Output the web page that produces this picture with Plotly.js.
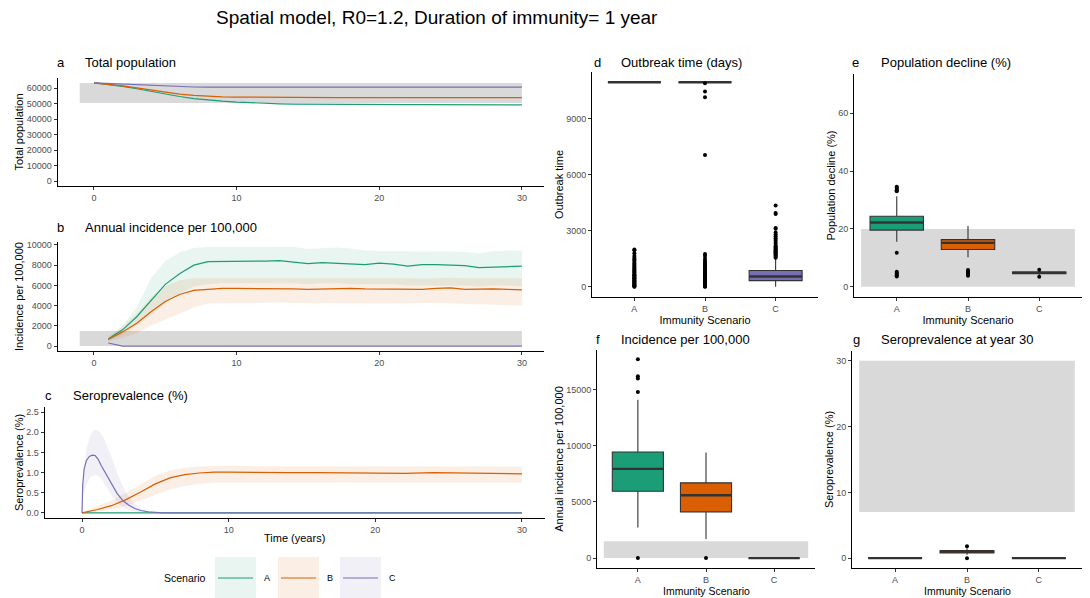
<!DOCTYPE html>
<html><head><meta charset="utf-8">
<script src="https://cdn.plot.ly/plotly-3.0.1.min.js"></script>
<style>html,body{margin:0;padding:0;background:#fff}#chart{width:1090px;height:598px}</style>
</head><body><div id="chart"></div>
<script>
const scenarios = ['A','B','C'];
const colors = ['#1b9e77','#d95f02','#7570b3'];
const bandColors = ['rgba(27,158,119,0.10)','rgba(217,95,2,0.10)','rgba(117,112,179,0.10)'];

// (a) total population
const popYears = [0,1,2,3,4,5,6,7,8,9,10,11,12,13,14,15,16,17,18,19,20,21,22,23,24,25,26,27,28,29,30];
const popA = [63500,62600,61300,59700,57900,56200,54700,53400,52400,51700,51100,50600,50300,50000,49800,49700,49600,49550,49500,49450,49450,49400,49400,49400,49350,49350,49350,49300,49300,49300,49300];
const popB = [63500,62700,61600,60300,58900,57500,56300,55400,54800,54500,54300,54200,54100,54050,54000,54000,54000,54000,54000,54000,54000,54000,54000,54000,54000,54000,54000,54000,54000,54000,54000];
const popC = [63500,63100,62700,62300,61800,61400,61000,60850,60800,60800,60800,60800,60800,60800,60800,60800,60800,60800,60800,60800,60800,60800,60800,60800,60800,60800,60800,60800,60800,60800,60800];
const popRefX = [-1,30];
const popRefY = [50500,63500];

// (b) annual incidence per 100,000
const incYears = [1,2,3,4,5,6,7,8,9,10,11,12,13,14,15,16,17,18,19,20,21,22,23,24,25,26,27,28,29,30];
const incA   = [700,1600,2900,4500,6100,7150,8000,8350,8350,8350,8400,8400,8450,8300,8150,8250,8200,8150,8050,8200,8100,7900,8050,8050,8000,7950,7750,7800,7850,7900];
const incAlo = [500,1100,2000,3000,4200,5200,5900,6100,6200,6200,6200,6200,6200,6200,6100,6200,6200,6100,6100,6100,6100,6000,6000,6000,6000,6000,5900,6000,6000,5900];
const incAhi = [900,2000,3800,6700,8400,9250,9700,9800,9800,9800,9800,9800,9850,9800,9600,9700,9750,9650,9450,9400,9400,9400,9350,9350,9350,9300,9150,9400,9450,9450];
const incB   = [650,1400,2250,3400,4400,5100,5500,5600,5700,5700,5700,5650,5700,5650,5600,5650,5700,5700,5650,5650,5650,5650,5600,5700,5750,5600,5650,5650,5600,5550];
const incBlo = [450,800,1300,2000,2600,3200,3800,4200,4250,4250,4250,4250,4300,4250,4200,4250,4250,4250,4200,4200,4200,4200,4250,4250,4200,4150,4150,4100,4050,4000];
const incBhi = [800,1900,3200,4800,5900,6500,6700,6700,6750,6750,6750,6700,6750,6750,6700,6750,6750,6750,6700,6700,6700,6700,6650,6700,6750,6700,6700,6700,6700,6700];
const incC   = [300,0,0,0,0,0,0,0,0,0,0,0,0,0,0,0,0,0,0,0,0,0,0,0,0,0,0,0,0,0];
const incClo = [250,0,0,0,0,0,0,0,0,0,0,0,0,0,0,0,0,0,0,0,0,0,0,0,0,0,0,0,0,0];
const incChi = [350,0,0,0,0,0,0,0,0,0,0,0,0,0,0,0,0,0,0,0,0,0,0,0,0,0,0,0,0,0];
const incRefX = [-1,30];
const incRefY = [0,1500];

// (c) seroprevalence (%)
const seroA_t = [0,30];
const seroA   = [0,0];
const seroB_t = [0,1,2,3,4,5,6,7,8,9,10,12,14,16,18,20,22,24,26,28,30];
const seroB   = [0,0.08,0.18,0.33,0.52,0.72,0.87,0.95,0.99,1.01,1.01,1.0,1.0,1.0,0.99,0.99,0.98,1.0,0.99,0.98,0.97];
const seroBhi = [0.02,0.15,0.3,0.5,0.72,0.92,1.05,1.12,1.15,1.16,1.17,1.16,1.16,1.16,1.15,1.15,1.15,1.16,1.15,1.15,1.15];
const seroBlo = [0,0.03,0.08,0.17,0.3,0.45,0.58,0.67,0.72,0.75,0.76,0.76,0.76,0.76,0.75,0.75,0.75,0.76,0.75,0.75,0.75];
const seroC_t = [0,0.05,0.15,0.3,0.5,0.7,0.9,1.1,1.3,1.6,2.0,2.4,2.8,3.2,3.6,4.0,4.5,5.0,5.5,6,10,20,30];
const seroC   = [0,0.7,1.1,1.3,1.4,1.43,1.42,1.33,1.18,0.98,0.72,0.48,0.3,0.19,0.11,0.06,0.03,0.01,0,0,0,0,0];
const seroCband_t = [0,0.1,0.3,0.6,0.9,1.2,1.5,2.0,2.5,3.0,3.5,4.0,4.5,5.0,6.0];
const seroChi = [0,1.0,1.6,1.95,2.07,2.02,1.85,1.4,0.9,0.5,0.25,0.12,0.05,0.02,0.01];
const seroClo = [0,0.5,0.7,0.9,0.95,0.9,0.75,0.45,0.22,0.1,0.04,0.01,0,0,0];

// (d) outbreak time (days)
const outQ1  = [10950,10950,330];
const outMed = [10950,10950,550];
const outQ3  = [10950,10950,870];
const outLo  = [10950,10950,0];
const outHi  = [10950,10950,1500];
const outOutA = [0,20,50,80,110,150,180,220,260,300,340,380,420,460,500,540,580,620,660,700,750,800,850,900,950,1000,1060,1120,1180,1250,1320,1400,1480,1560,1650,1800,1950,2000];
const outOutB = [0,20,50,80,110,150,180,220,260,300,340,380,420,460,500,540,580,620,660,700,750,800,850,900,950,1000,1060,1120,1180,1250,1320,1400,1500,1650,1750,7050,10150,10450,10900];
const outOutC = [1550,1600,1650,1700,1750,1800,1850,1900,1950,2000,2050,2100,2150,2200,2300,2400,2500,2600,2700,2800,2900,3100,3150,3900,3950,4350];

// (e) population decline (%)
const declQ1  = [19.6,12.9,4.55];
const declMed = [22.2,15.2,4.85];
const declQ3  = [24.4,16.3,5.1];
const declLo  = [15.6,10.2,4.0];
const declHi  = [31.3,21.0,5.7];
const declOutA = [33.0,33.4,33.8,34.2,34.6,11.8,3.6,4.0,4.4,4.8,5.2];
const declOutB = [3.8,4.2,4.6,5.0,5.4,5.8];
const declOutC = [3.5,5.9];
const declRefX = [-0.5,2.5];
const declRefY = [0,20];

// (f) incidence per 100,000
const fQ1  = [5960,4120,0];
const fMed = [7950,5600,0];
const fQ3  = [9450,6700,0];
const fLo  = [2720,1700,0];
const fHi  = [14100,9400,0];
const fOutA = [14800,16000,16200,17700,0];
const fOutB = [0];
const fOutC = [];
const fRefX = [-0.5,2.5];
const fRefY = [0,1500];

// (g) seroprevalence at year 30
const gQ1  = [0,0.8,0];
const gMed = [0,1.0,0];
const gQ3  = [0,1.15,0];
const gLo  = [0,0.5,0];
const gHi  = [0,1.5,0];
const gOutA = [];
const gOutB = [1.8,0];
const gOutC = [];
const gRefX = [-0.5,2.5];
const gRefY = [7,30];

const W = 1090, H = 598;
const px = v => v / W;
const py = v => 1 - v / H;
const FONT = 'Liberation Sans, Arial, sans-serif';

const traces = [];
function line(x, y, i, xa, ya, w) {
  traces.push({type:'scatter', mode:'lines', x:x, y:y, xaxis:xa, yaxis:ya,
    line:{color:colors[i], width:w||1.2}, hoverinfo:'skip', showlegend:false});
}
function band(x, lo, hi, i, xa, ya) {
  const xs = x.concat(x.slice().reverse());
  const ys = hi.concat(lo.slice().reverse());
  traces.push({type:'scatter', mode:'lines', x:xs, y:ys, fill:'toself', fillcolor:bandColors[i],
    line:{width:0}, xaxis:xa, yaxis:ya, hoverinfo:'skip', showlegend:false});
}
// a
line(popYears, popA, 0, 'x', 'y');
line(popYears, popB, 1, 'x', 'y');
line(popYears, popC, 2, 'x', 'y');
// b
band(incYears, incAlo, incAhi, 0, 'x2', 'y2');
band(incYears, incBlo, incBhi, 1, 'x2', 'y2');
band(incYears, incClo, incChi, 2, 'x2', 'y2');
line(incYears, incA, 0, 'x2', 'y2');
line(incYears, incB, 1, 'x2', 'y2');
line(incYears, incC, 2, 'x2', 'y2');
// c
band(seroB_t, seroBlo, seroBhi, 1, 'x3', 'y3');
band(seroCband_t, seroClo, seroChi, 2, 'x3', 'y3');
line(seroA_t, seroA, 0, 'x3', 'y3');
line(seroB_t, seroB, 1, 'x3', 'y3');
line(seroC_t, seroC, 2, 'x3', 'y3');

function boxes(xa, ya, q1, med, q3, lo, hi, outs) {
  for (let i = 0; i < 3; i++) {
    traces.push({type:'box', x:[i], q1:[q1[i]], median:[med[i]], q3:[q3[i]],
      lowerfence:[lo[i]], upperfence:[hi[i]], width:0.75, whiskerwidth:0,
      fillcolor:colors[i], line:{color:'#333333', width:1.1}, boxpoints:false,
      xaxis:xa, yaxis:ya, hoverinfo:'skip', showlegend:false});
    traces.push({type:'scatter', mode:'lines', x:[i-0.375, i+0.375], y:[med[i], med[i]],
      line:{color:'#333333', width:2.4}, xaxis:xa, yaxis:ya, hoverinfo:'skip', showlegend:false});
    if (outs[i].length) {
      traces.push({type:'scatter', mode:'markers', x:outs[i].map(() => i), y:outs[i],
        marker:{color:'#000', size:4}, xaxis:xa, yaxis:ya, hoverinfo:'skip', showlegend:false});
    }
  }
}
boxes('x4','y4', outQ1, outMed, outQ3, outLo, outHi, [outOutA, outOutB, outOutC]);
boxes('x5','y5', declQ1, declMed, declQ3, declLo, declHi, [declOutA, declOutB, declOutC]);
boxes('x6','y6', fQ1, fMed, fQ3, fLo, fHi, [fOutA, fOutB, fOutC]);
boxes('x7','y7', gQ1, gMed, gQ3, gLo, gHi, [gOutA, gOutB, gOutC]);

const base = {showline:true, linecolor:'#000', linewidth:1, ticks:'outside', ticklen:3,
  tickcolor:'#333', tickwidth:1, tickfont:{family:FONT, size:9, color:'#4d4d4d'},
  showgrid:false, zeroline:false, fixedrange:true, automargin:false};
function xax(dom, anchor, range, tv, tt, title) {
  const o = Object.assign({}, base, {domain:dom, anchor:anchor, range:range, tickmode:'array', tickvals:tv});
  if (tt) o.ticktext = tt;
  if (title) o.title = {text:title, font:{family:FONT, size:11, color:'#000'}, standoff:0};
  return o;
}
function yax(dom, anchor, range, tv, title, standoff, fmt) {
  const o = Object.assign({}, base, {domain:dom, anchor:anchor, range:range, tickmode:'array', tickvals:tv,
    tickformat: fmt || 'd',
    title:{text:title, font:{family:FONT, size:11, color:'#000'}, standoff:standoff}});
  return o;
}
const tRange = [-2.55, 31.55];
const catRange = [-0.6, 2.6];
const yrs = [0,10,20,30];
const cats = [0,1,2];

const layout = {
  width: W, height: H, margin:{l:0,r:0,t:0,b:0}, paper_bgcolor:'#fff', plot_bgcolor:'rgba(0,0,0,0)',
  showlegend:false, boxmode:'overlay', font:{family:FONT},
  xaxis:  xax([px(57.6), px(544)], 'y',  tRange, yrs),
  yaxis:  yax([py(186), py(78)], 'x',  [-3175, 66675], [0,10000,20000,30000,40000,50000,60000], 'Total population', 0),
  xaxis2: xax([px(57.6), px(544)], 'y2', tRange, yrs),
  yaxis2: yax([py(351), py(242)], 'x2', [-490, 10290], [0,2000,4000,6000,8000,10000], 'Incidence per 100,000', 0),
  xaxis3: xax([px(44.6), px(544.7)], 'y3', tRange, yrs, null, 'Time (years)'),
  yaxis3: yax([py(518), py(407)], 'x3', [-0.125, 2.625], [0,0.5,1,1.5,2,2.5], 'Seroprevalence (%)', 0, '.1f'),
  xaxis4: xax([px(592), px(818)], 'y4', catRange, cats, scenarios, 'Immunity Scenario'),
  yaxis4: yax([py(297), py(72)], 'x4', [-547, 11497], [0,3000,6000,9000], 'Outbreak time', 0),
  xaxis5: xax([px(854), px(1082)], 'y5', catRange, cats, scenarios, 'Immunity Scenario'),
  yaxis5: yax([py(297), py(74)], 'x5', [-3.5, 73.5], [0,20,40,60], 'Population decline (%)', 0),
  xaxis6: xax([px(597), px(815)], 'y6', catRange, cats, scenarios),
  yaxis6: yax([py(568), py(350)], 'x6', [-880, 18530], [0,5000,10000,15000], 'Annual incidence per 100,000', 0),
  xaxis7: xax([px(852), px(1082)], 'y7', catRange, cats, scenarios),
  yaxis7: yax([py(568), py(351)], 'x7', [-1.5, 31.5], [0,10,20,30], 'Seroprevalence (%)', 0),
  shapes: [], annotations: []
};
const GREY = '#d9d9d9';
function refRect(xa, ya, rx, ry) {
  layout.shapes.push({type:'rect', xref:xa, yref:ya, x0:rx[0], x1:rx[1], y0:ry[0], y1:ry[1],
    fillcolor:GREY, line:{width:0}, layer:'below'});
}
refRect('x','y', popRefX, popRefY);
refRect('x2','y2', incRefX, incRefY);
refRect('x5','y5', declRefX, declRefY);
refRect('x6','y6', fRefX, fRefY);
refRect('x7','y7', gRefX, gRefY);

function note(text, x, y, size, anchor, vanchor) {
  layout.annotations.push({text:text, x:px(x), y:py(y), xref:'paper', yref:'paper', showarrow:false,
    xanchor:anchor||'left', yanchor:vanchor||'middle', borderpad:0,
    font:{family:FONT, size:size, color:'#000'}});
}
note('Spatial model, R0=1.2, Duration of immunity= 1 year', 437, 18, 19, 'center');
const panels = [
  ['a','Total population', 56, 84, 62],
  ['b','Annual incidence per 100,000', 56, 84, 228],
  ['c','Seroprevalence (%)', 44, 72, 395],
  ['d','Outbreak time (days)', 593, 620, 62],
  ['e','Population decline (%)', 851, 880, 62],
  ['f','Incidence per 100,000', 595, 620, 339],
  ['g','Seroprevalence at year 30', 852, 880, 339]
];
panels.forEach(p => { note(p[0], p[2], p[4], 13); note(p[1], p[3], p[4], 13); });
// bottom-row x-axis titles, placed at the bottom edge of the figure
note('Immunity Scenario', 706, 598, 10.5, 'center', 'bottom');
note('Immunity Scenario', 967, 598, 10.5, 'center', 'bottom');

// legend
note('Scenario', 185, 578, 10.5, 'center');
const keyX = [215, 278, 340];
scenarios.forEach((s, i) => {
  const x0 = keyX[i];
  layout.shapes.push({type:'rect', xref:'paper', yref:'paper', x0:px(x0), x1:px(x0+41), y0:py(598), y1:py(557),
    fillcolor:bandColors[i], line:{width:0}});
  layout.shapes.push({type:'line', xref:'paper', yref:'paper', x0:px(x0+3), x1:px(x0+38), y0:py(578), y1:py(578),
    line:{color:colors[i], width:1.2}});
  note(s, x0+48, 578, 9, 'left');
});

Plotly.newPlot('chart', traces, layout, {staticPlot:true, displayModeBar:false});
</script></body></html>
